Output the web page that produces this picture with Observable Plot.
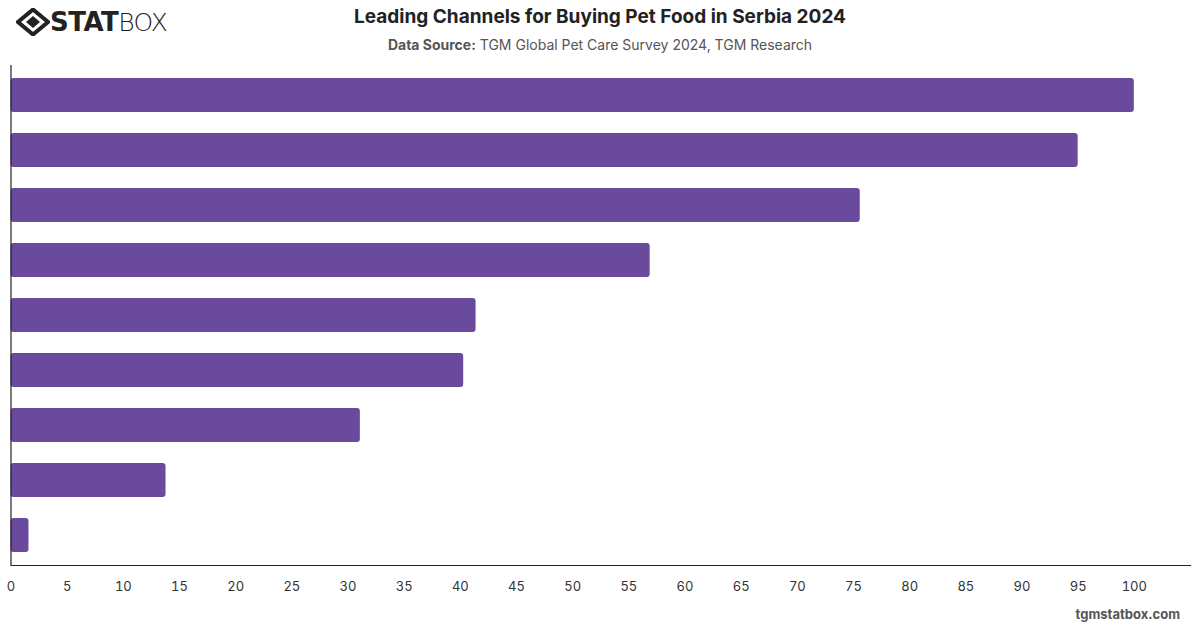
<!DOCTYPE html>
<html>
<head>
<meta charset="utf-8">
<script src="https://cdn.jsdelivr.net/npm/d3@7"></script>
<script src="https://cdn.jsdelivr.net/npm/@observablehq/plot@0.6"></script>
<style>
  html, body { margin: 0; padding: 0; background: #fff; }
  body { width: 1200px; height: 628px; position: relative; overflow: hidden; font-family: Inter, "Open Sans", sans-serif; }
  #logo { position: absolute; left: 16px; top: 7px; display: flex; align-items: center; }
  #logo .t1 { font-family: "DejaVu Sans", sans-serif; font-weight: 900; font-size: 26px; color: #222; letter-spacing: -0.5px; }
  #logo .t2 { font-family: "DejaVu Sans", sans-serif; font-weight: 300; font-size: 25px; color: #222; letter-spacing: -0.8px; }
  #title { position: absolute; left: 0; width: 1200px; top: 5px; text-align: center; font-size: 19px; font-weight: 700; color: #222; }
  #subtitle { position: absolute; left: 0; width: 1200px; top: 36px; text-align: center; font-size: 14px; color: #555; }
  #subtitle b { font-weight: 700; color: #555; }
  #chart { position: absolute; left: 0; top: 60px; line-height: 0; }
  #chart svg { display: block; }
  #footer { position: absolute; right: 20px; top: 606px; font-size: 13px; font-weight: 700; color: #555; }
</style>
</head>
<body>
<div id="logo">
  <svg width="34" height="28" viewBox="0 0 34 28">
    <path d="M17 1.5 L32 14 L17 26.5 L2 14 Z" fill="none" stroke="#222" stroke-width="4"/>
    <path d="M17 8 L24 14 L17 20 L10 14 Z" fill="#222"/>
  </svg>
  <span class="t1">STAT</span><span class="t2">BOX</span>
</div>
<div id="title">Leading Channels for Buying Pet Food in Serbia 2024</div>
<div id="subtitle"><b>Data Source:</b> TGM Global Pet Care Survey 2024, TGM Research</div>
<div id="chart"></div>
<div id="footer">tgmstatbox.com</div>
<script>
const channels = [
  "Pet stores",
  "Supermarkets",
  "Hypermarkets",
  "Online pet stores",
  "Veterinary clinics",
  "Online marketplaces",
  "Convenience stores",
  "Farm stores",
  "Other"
];
const shares = [100, 95.0, 75.6, 56.9, 41.4, 40.3, 31.1, 13.8, 1.6];
const xTicks = d3.range(0, 101, 5);

const data = channels.map((c, i) => ({channel: c, value: shares[i]}));

const plot = Plot.plot({
  width: 1200,
  height: 568,
  marginLeft: 10.5,
  marginRight: 10,
  marginTop: 5,
  marginBottom: 63,
  style: {fontFamily: "Inter, 'Open Sans', sans-serif", fontSize: "13px", color: "#333", background: "#fff"},
  x: {domain: [0, 105], ticks: xTicks, tickSize: 0, tickPadding: 16, label: null},
  y: {domain: channels, paddingInner: 0.378, paddingOuter: 0.194, axis: null},
  marks: [
    Plot.barX(data, {x: "value", y: "channel", fill: "#6a4a9c", rx: 3}),
    Plot.ruleX([0], {stroke: "#222", strokeWidth: 1.2}),
    Plot.frame({anchor: "bottom", stroke: "#222", strokeWidth: 1.2})
  ]
});
document.getElementById("chart").appendChild(plot);
</script>
</body>
</html>
